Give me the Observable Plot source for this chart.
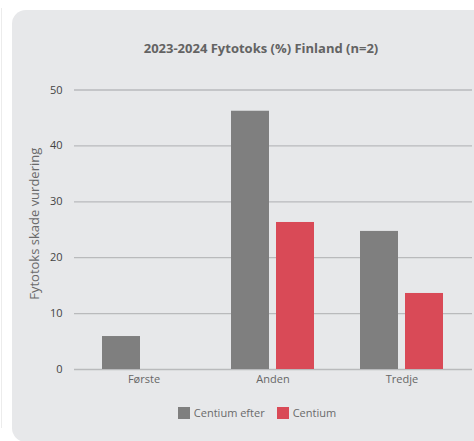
<!DOCTYPE html>
<html>
<head>
<meta charset="utf-8">
<script src="https://cdn.jsdelivr.net/npm/d3@7"></script>
<script src="https://cdn.jsdelivr.net/npm/@observablehq/plot@0.6"></script>
<style>
  html, body { margin: 0; padding: 0; background: #ffffff; width: 474px; height: 441px; overflow: hidden; font-family: "Open Sans", "Noto Sans", sans-serif; }
  #strip { position: absolute; left: 1px; top: 8px; width: 1px; height: 420px; background: #ececec; }
  #card { position: absolute; left: 12px; top: 10px; width: 500px; height: 432px; background: #e7e8ea; border-radius: 14px; }
  #title { position: absolute; left: 0; top: 39px; width: 522px; text-align: center; font-size: 13px; font-weight: 700; color: #636363; }
  #chart { position: absolute; left: 0; top: 0; }
  #legend { position: absolute; left: 0; top: 405px; width: 514px; display: flex; justify-content: center; align-items: center; font-size: 11px; color: #6a6a6a; }
  .item { display: flex; align-items: center; margin: 0 6px; }
  .sw { width: 12px; height: 12px; margin-right: 4px; }
</style>
</head>
<body>
<div id="strip"></div>
<div id="card"></div>
<div id="title">2023-2024 Fytotoks (%) Finland (n=2)</div>
<div id="chart"></div>
<div id="legend"></div>
<script>
const categories = ["Første", "Anden", "Tredje"];
const seriesNames = ["Centium efter", "Centium"];
const centiumEfter = [5.9, 46.2, 24.7];
const centium = [null, 26.3, 13.6];
const yTicks = [0, 10, 20, 30, 40, 50];
const colors = ["#7f7f7f", "#d94a57"];
const yLabel = "Fytotoks skade vurdering";

const rowsEfter = categories.map((c, i) => ({category: c, value: centiumEfter[i]}));
const rowsCentium = categories.map((c, i) => ({category: c, value: centium[i]})).filter(d => d.value != null);

const barStyle = {insetLeft: 45.5, insetRight: 45.5};

const chart = Plot.plot({
  width: 474,
  height: 400,
  marginLeft: 74,
  marginRight: 2,
  marginTop: 89.5,
  marginBottom: 31,
  style: {background: "transparent", fontFamily: "'Open Sans', 'Noto Sans', sans-serif", fontSize: "11px", color: "#444"},
  x: {domain: categories, range: [79, 466], padding: 0, label: null},
  y: {domain: [0, 50], label: null},
  marks: [
    Plot.ruleY(yTicks, {stroke: "#b9babc", strokeWidth: 1.3}),
    Plot.barY(rowsEfter, {x: "category", y: "value", fill: colors[0], dx: -22.5, ...barStyle}),
    Plot.barY(rowsCentium, {x: "category", y: "value", fill: colors[1], dx: 22.5, ...barStyle}),
    Plot.axisY({ticks: yTicks, tickSize: 0, tickPadding: 12, label: null, fill: "#444", fontSize: 11}),
    Plot.axisX({tickSize: 0, tickPadding: 6, label: null, fill: "#666", fontSize: 11}),
    Plot.text([yLabel], {frameAnchor: "left", rotate: -90, dx: -40, dy: -6, fill: "#6a6a6a", fontSize: 13, textAnchor: "middle"})
  ]
});
document.getElementById("chart").appendChild(chart);

const legend = document.getElementById("legend");
seriesNames.forEach((name, i) => {
  const item = document.createElement("div");
  item.className = "item";
  const sw = document.createElement("div");
  sw.className = "sw";
  sw.style.background = colors[i];
  const label = document.createElement("span");
  label.textContent = name;
  item.appendChild(sw);
  item.appendChild(label);
  legend.appendChild(item);
});
</script>
</body>
</html>
